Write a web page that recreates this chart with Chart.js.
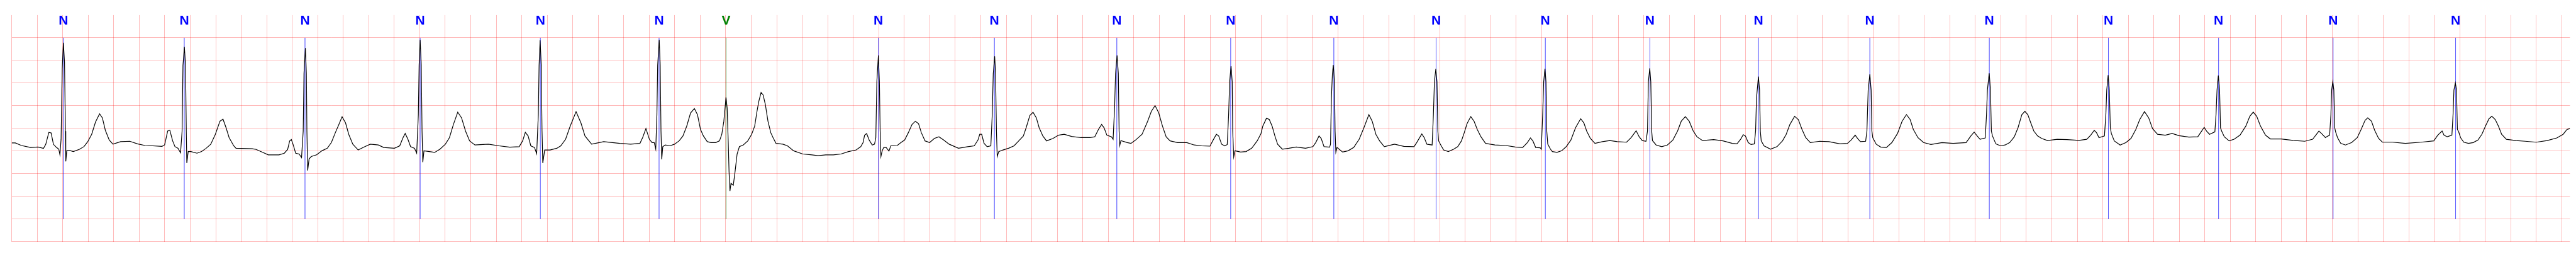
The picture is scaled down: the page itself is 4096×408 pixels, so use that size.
<!DOCTYPE html>
<html><head><meta charset="utf-8">
<script src="https://cdn.jsdelivr.net/npm/chart.js@4.4.0/dist/chart.umd.min.js"></script>
<style>html,body{margin:0;padding:0;background:#fff;overflow:hidden}canvas{display:block}</style>
</head><body>
<canvas id="c" width="4096" height="408"></canvas>
<script>
// ECG trace, in strips (time in s, amplitude in mV)
const stripA_t = [0.000,0.028,0.076,0.148,0.207,0.249,0.267,0.291,0.309,0.327,
0.351,0.369,0.378,0.387,0.396,0.405,0.414,0.421,0.424,0.432,
0.459,0.483,0.531,0.567,0.597,0.627,0.657,0.689,0.711,0.734,
0.765,0.794,0.854,0.926,0.986,1.046,1.106,1.178,1.199,1.223,
1.240,1.262,1.280,1.304,1.324,1.336,1.343,1.354,1.363,1.369,
1.373,1.384,1.405,1.453,1.489,1.525,1.561,1.597,1.633,1.657,
1.681,1.705,1.741];
const stripA_mv = [-0.319,-0.320,-0.377,-0.420,-0.410,-0.440,-0.350,-0.087,-0.100,-0.350,
-0.420,-0.457,-0.583,-0.240,1.320,1.891,1.460,-0.060,-0.728,-0.490,
-0.490,-0.510,-0.460,-0.400,-0.290,-0.130,0.141,0.322,0.232,-0.040,
-0.257,-0.348,-0.293,-0.283,-0.340,-0.377,-0.384,-0.395,-0.366,-0.058,
-0.040,-0.275,-0.400,-0.438,-0.536,-0.060,1.390,1.797,1.390,-0.058,
-0.764,-0.510,-0.510,-0.547,-0.510,-0.438,-0.348,-0.130,0.159,0.203,
0.015,-0.203,-0.384];

const stripB_t = [1.759,1.886,1.917,1.970,2.012,2.096,2.138,2.164,2.180,2.193,
2.206,2.227,2.254,2.273,2.286,2.292,2.303,2.311,2.315,2.321,
2.332,2.349,2.391,2.433,2.475,2.507,2.538,2.566,2.591,2.618,
2.643,2.675,2.717,2.770,2.812,2.875,2.917,3.001,3.043,3.069,
3.086,3.107,3.128,3.159,3.176,3.189,3.195,3.203,3.212,3.218,
3.224,3.233,3.275,3.317,3.359,3.401,3.433,3.464,3.498,3.528,
3.559,3.591,3.633,3.738,3.822,3.906,3.980,4.007,4.028,4.050,
4.071,4.100,4.117,4.130,4.136,4.144,4.153,4.159,4.165,4.180,
4.222,4.275,4.306,4.344,4.380,4.426,4.464,4.496,4.548,4.643,
4.769,4.854,4.927,4.948,4.974,5.001,5.022,5.039,5.051];
const stripB_mv = [-0.438,-0.449,-0.464,-0.529,-0.583,-0.583,-0.547,-0.464,-0.275,-0.246,
-0.348,-0.547,-0.565,-0.645,-0.058,1.210,1.772,1.210,-0.058,-0.928,
-0.674,-0.620,-0.583,-0.493,-0.438,-0.312,-0.094,0.087,0.257,0.123,
-0.130,-0.348,-0.475,-0.402,-0.348,-0.366,-0.420,-0.438,-0.384,-0.203,
-0.112,-0.239,-0.402,-0.438,-0.547,0.304,1.391,1.953,1.391,-0.058,
-0.746,-0.493,-0.511,-0.529,-0.457,-0.348,-0.203,0.087,0.359,0.232,
-0.058,-0.275,-0.366,-0.348,-0.384,-0.413,-0.402,-0.275,-0.087,-0.167,
-0.384,-0.420,-0.558,0.304,1.391,1.942,1.391,-0.058,-0.764,-0.475,
-0.475,-0.438,-0.384,-0.239,0.051,0.370,0.123,-0.167,-0.348,-0.293,
-0.330,-0.348,-0.330,-0.203,-0.004,-0.239,-0.312,-0.312,-0.457];

const stripC_t = [5.060,5.066,5.078,5.086,5.092,5.098,5.106,5.126,5.162,5.198,
5.234,5.264,5.294,5.324,5.354,5.378,5.402,5.425,5.455,5.485,
5.521,5.551,5.569,5.585,5.602,5.611,5.620,5.626,5.633,5.641,
5.659,5.671,5.689,5.707,5.737,5.773,5.803,5.827,5.845,5.859,
5.877,5.893,5.911,5.931,5.953,5.971,5.994,6.048,6.084,6.132,
6.204,6.276,6.324,6.384,6.444,6.504,6.563,6.623,6.659,6.677,
6.689,6.705,6.725,6.749,6.767,6.777,6.785,6.797,6.805,6.811,
6.817,6.827,6.839];
const stripC_mv = [0.304,1.391,1.953,1.391,-0.058,-0.681,-0.402,-0.366,-0.384,-0.348,
-0.275,-0.167,0.051,0.341,0.438,0.304,-0.022,-0.167,-0.293,-0.312,
-0.312,-0.275,-0.130,0.159,0.685,0.449,-0.348,-0.964,-1.380,-1.210,
-1.254,-1.000,-0.565,-0.402,-0.366,-0.275,-0.130,0.051,0.377,0.594,
0.793,0.739,0.522,0.159,-0.094,-0.203,-0.330,-0.348,-0.384,-0.493,
-0.565,-0.583,-0.601,-0.583,-0.583,-0.565,-0.511,-0.475,-0.402,-0.312,
-0.149,-0.112,-0.257,-0.366,-0.348,-0.203,1.029,1.609,1.029,-0.058,
-0.620,-0.493,-0.420];

const stripD_t = [6.858,6.880,6.894,6.945,6.974,7.003,7.032,7.061,7.087,7.112,
7.134,7.163,7.199,7.236,7.272,7.309,7.352,7.425,7.498,7.549,
7.578,7.592,7.607,7.626,7.650,7.679,7.690,7.698,7.709,7.716,
7.723,7.729,7.741,7.774,7.818,7.861,7.898,7.934,7.956,7.985,
8.010,8.036,8.058,8.087,8.116,8.167,8.210,8.254,8.312,8.385,
8.458,8.494,8.523,8.548,8.567,8.589,8.625,8.638,8.650,8.657,
8.669,8.679,8.685,8.690,8.699,8.749,8.778,8.814,8.865,8.909,
8.938,8.967,8.996,9.025,9.054];
const stripD_mv = [-0.420,-0.500,-0.384,-0.377,-0.312,-0.257,-0.094,0.087,0.159,0.105,
-0.094,-0.275,-0.312,-0.221,-0.185,-0.257,-0.348,-0.438,-0.402,-0.384,
-0.257,-0.130,-0.130,-0.330,-0.402,-0.384,0.304,1.210,1.591,1.210,
-0.058,-0.620,-0.511,-0.475,-0.438,-0.384,-0.275,-0.167,0.015,0.286,
0.355,0.232,0.015,-0.167,-0.275,-0.221,-0.149,-0.130,-0.178,-0.203,
-0.203,-0.185,-0.022,0.087,0.015,-0.149,-0.185,-0.239,0.486,1.210,
1.609,1.210,-0.058,-0.377,-0.268,-0.312,-0.330,-0.257,-0.130,0.159,
0.377,0.504,0.341,0.051,-0.185];

const stripE_t = [9.085,9.143,9.216,9.274,9.332,9.398,9.419,9.448,9.466,9.489,
9.514,9.533,9.544,9.552,9.563,9.572,9.576,9.584,9.594,9.638,
9.681,9.725,9.768,9.798,9.812,9.841,9.863,9.885,9.907,9.928,
9.965,10.016,10.074,10.147,10.205,10.227,10.253,10.270,10.292,10.336,
10.343,10.350,10.358,10.365,10.374,10.379,10.385,10.394,10.438,10.481,
10.525,10.568,10.605,10.644,10.670,10.699,10.728,10.765,10.845,10.918,
10.998,11.019,11.059,11.078,11.099,11.140,11.150,11.158,11.169,11.178,
11.185,11.191,11.208,11.230,11.267,11.310];
const stripE_mv = [-0.275,-0.312,-0.312,-0.366,-0.384,-0.391,-0.275,-0.130,-0.167,-0.348,
-0.384,-0.355,0.304,1.029,1.373,1.029,-0.058,-0.630,-0.493,-0.522,
-0.511,-0.438,-0.275,-0.112,0.051,0.225,0.196,0.051,-0.167,-0.348,
-0.457,-0.438,-0.409,-0.438,-0.402,-0.312,-0.167,-0.221,-0.402,-0.413,
-0.348,0.667,1.210,1.399,1.029,-0.058,-0.522,-0.420,-0.522,-0.493,
-0.420,-0.239,0.015,0.304,0.159,-0.130,-0.275,-0.402,-0.348,-0.395,
-0.402,-0.312,-0.123,-0.203,-0.348,-0.366,0.304,1.029,1.312,1.029,
-0.058,-0.275,-0.366,-0.475,-0.511,-0.457];

const stripF_t = [11.341,11.370,11.392,11.414,11.443,11.469,11.494,11.523,11.559,11.632,
11.719,11.792,11.850,11.887,11.911,11.930,11.952,11.988,11.996,12.007,
12.015,12.025,12.033,12.039,12.047,12.068,12.083,12.119,12.156,12.192,
12.228,12.265,12.305,12.330,12.352,12.381,12.417,12.476,12.534,12.592,
12.665,12.701,12.740,12.764,12.788,12.817,12.829,12.836,12.847,12.855,
12.862,12.868,12.897,12.941,12.985,13.028,13.065,13.094,13.126,13.156,
13.188,13.217,13.261,13.348,13.421,13.494,13.530];
const stripF_mv = [-0.402,-0.275,-0.094,0.105,0.261,0.159,-0.022,-0.185,-0.330,-0.366,
-0.377,-0.409,-0.420,-0.312,-0.210,-0.275,-0.420,-0.428,-0.457,0.304,
1.029,1.319,1.029,-0.058,-0.348,-0.457,-0.511,-0.529,-0.493,-0.402,
-0.257,0.015,0.214,0.123,-0.058,-0.221,-0.330,-0.293,-0.268,-0.293,
-0.304,-0.203,-0.051,-0.185,-0.268,-0.283,-0.058,1.029,1.326,1.029,
-0.058,-0.268,-0.366,-0.402,-0.366,-0.257,-0.058,0.159,0.261,0.159,
-0.058,-0.185,-0.268,-0.246,-0.275,-0.330,-0.341];

const stripG_t = [13.539,13.561,13.580,13.597,13.619,13.641,13.667,13.677,13.684,13.699,
13.708,13.714,13.721,13.743,13.794,13.845,13.888,13.917,13.946,13.983,
14.012,14.041,14.070,14.106,14.179,14.252,14.339,14.397,14.426,14.458,
14.477,14.499,14.540,14.550,14.560,14.573,14.583,14.589,14.596,14.623,
14.659,14.703,14.746,14.790,14.826,14.860,14.889,14.914,14.950,14.994,
15.052,15.139,15.226,15.328,15.365,15.391,15.415,15.437,15.478,15.488,
15.495,15.509,15.519,15.526,15.535,15.561,15.597,15.634,15.670,15.706,
15.735,15.765];
const stripG_mv = [-0.312,-0.232,-0.138,-0.167,-0.312,-0.355,-0.341,-0.058,0.667,1.145,
0.848,-0.058,-0.275,-0.384,-0.457,-0.402,-0.275,-0.130,0.087,0.268,
0.196,-0.022,-0.203,-0.312,-0.283,-0.293,-0.341,-0.330,-0.257,-0.149,
-0.221,-0.293,-0.283,-0.058,0.848,1.192,0.848,-0.058,-0.203,-0.348,
-0.413,-0.420,-0.312,-0.112,0.159,0.304,0.196,-0.022,-0.203,-0.312,
-0.355,-0.312,-0.330,-0.312,-0.167,-0.080,-0.167,-0.239,-0.210,0.304,
0.848,1.217,0.848,-0.058,-0.167,-0.341,-0.384,-0.366,-0.312,-0.185,
0.015,0.304];

const stripH_t = [15.789,15.812,15.835,15.859,15.889,15.920,15.966,16.043,16.120,16.213,
16.274,16.305,16.333,16.351,16.370,16.413,16.424,16.431,16.442,16.451,
16.459,16.467,16.490,16.536,16.582,16.621,16.659,16.690,16.727,16.760,
16.790,16.829,16.890,16.944,16.998,17.075,17.145,17.171,17.195,17.214,
17.237,17.279,17.288,17.296,17.306,17.316,17.323,17.332,17.353,17.391,
17.430,17.476,17.522,17.553,17.580,17.607,17.637,17.676,17.714,17.799,
17.892,17.984,18.046,18.076,18.095,18.115,18.146];
const stripH_mv = [0.377,0.304,0.123,-0.058,-0.167,-0.221,-0.268,-0.239,-0.246,-0.264,
-0.239,-0.149,-0.043,-0.094,-0.203,-0.167,0.304,0.848,1.174,0.848,
0.015,-0.112,-0.275,-0.366,-0.312,-0.221,-0.022,0.196,0.370,0.232,
-0.004,-0.130,-0.149,-0.112,-0.159,-0.192,-0.185,-0.076,0.022,-0.058,
-0.130,-0.076,0.304,0.848,1.167,0.848,0.015,-0.058,-0.185,-0.275,
-0.239,-0.149,0.051,0.268,0.359,0.268,0.051,-0.149,-0.232,-0.232,
-0.264,-0.283,-0.239,-0.130,-0.058,-0.112,-0.203];

const stripI_t = [18.154,18.179,18.189,18.195,18.204,18.212,18.219,18.226,18.241,18.266,
18.303,18.352,18.396,18.426,18.457,18.478,18.507,18.532,18.563,18.593,
18.674,18.773,18.897,18.996,19.027,19.061,19.076,19.101,19.138,19.147,
19.154,19.165,19.174,19.181,19.191,19.206,19.231,19.268,19.305,19.342,
19.373,19.404,19.429,19.451,19.478,19.503,19.528,19.565,19.639,19.713,
19.800,19.886,19.961,20.010,20.041,20.064];
const stripI_mv = [-0.185,-0.149,0.304,0.848,1.029,0.848,0.015,-0.076,-0.203,-0.330,
-0.366,-0.312,-0.203,-0.022,0.178,0.232,0.159,-0.040,-0.221,-0.304,
-0.304,-0.330,-0.304,-0.275,-0.149,-0.058,-0.149,-0.185,-0.149,0.304,
0.848,1.004,0.848,-0.022,-0.076,-0.203,-0.304,-0.330,-0.312,-0.257,
-0.130,0.069,0.214,0.268,0.196,0.051,-0.130,-0.239,-0.268,-0.283,
-0.304,-0.268,-0.210,-0.130,-0.022,-0.004];

// beat annotations
const beatTimes = [0.405,1.353,2.300,3.203,4.146,5.077,5.602,6.797,7.707,8.667,9.560,
10.369,11.171,12.028,12.848,13.699,14.573,15.510,16.444,17.308,18.206,19.167];
const beatSymbols = ['N','N','N','N','N','N','V','N','N','N','N',
'N','N','N','N','N','N','N','N','N','N','N'];
const symbolColors = {N:'#0000ff', V:'#008000'};
const markerLineColors = {N:'rgba(0,0,255,0.5)', V:'rgba(0,128,0,0.5)'};

// axes
const xRange = [0, 20.064];
const yRange = [-2.5, 2.5];
const xGridStep = 0.2;
const yGridStep = 0.5;
const markerSpan = [-2.0, 2.0];

const strips = [[stripA_t,stripA_mv],[stripB_t,stripB_mv],[stripC_t,stripC_mv],[stripD_t,stripD_mv],
[stripE_t,stripE_mv],[stripF_t,stripF_mv],[stripG_t,stripG_mv],[stripH_t,stripH_mv],[stripI_t,stripI_mv]];
const ecgPoints = [];
strips.forEach(([ts, vs], k) => {
  if (ts.length !== vs.length) throw new Error('strip ' + k + ' length mismatch ' + ts.length + ' vs ' + vs.length);
  ts.forEach((t, i) => ecgPoints.push({x: t, y: vs[i]}));
});

function markerData(sym) {
  const d = [];
  beatTimes.forEach((t, i) => {
    if (beatSymbols[i] === sym) d.push({x: t, y: markerSpan[1]}, {x: t, y: markerSpan[0]}, {x: t, y: null});
  });
  return d;
}

const S = 0.544;
const labelPlugin = {
  id: 'beatLabels',
  afterDatasetsDraw(chart) {
    const {ctx, chartArea, scales: {x}} = chart;
    ctx.save();
    ctx.font = 'bold 21px "Liberation Sans Narrow", "Liberation Sans", Arial, sans-serif';
    ctx.textAlign = 'center';
    ctx.textBaseline = 'alphabetic';
    beatTimes.forEach((t, i) => {
      ctx.fillStyle = symbolColors[beatSymbols[i]];
      ctx.fillText(beatSymbols[i], x.getPixelForValue(t), chartArea.top + 27 * S);
    });
    ctx.restore();
  }
};

const gridColor = 'rgba(255,0,0,0.27)';
new Chart(document.getElementById('c'), {
  type: 'line',
  data: {
    datasets: [
      {data: ecgPoints, borderColor: '#000', borderWidth: 1.2, pointRadius: 0, tension: 0, fill: false},
      {data: markerData('N'), borderColor: markerLineColors.N, borderWidth: 0.6, pointRadius: 0, spanGaps: false},
      {data: markerData('V'), borderColor: markerLineColors.V, borderWidth: 0.6, pointRadius: 0, spanGaps: false}
    ]
  },
  options: {
    responsive: false,
    animation: false,
    devicePixelRatio: 1,
    layout: {padding: {left: 34.3 * S, right: 4096 - 7511.8 * S, top: 44 * S, bottom: 408 - 705.5 * S}},
    plugins: {legend: {display: false}, tooltip: {enabled: false}},
    scales: {
      x: {type: 'linear', min: xRange[0], max: xRange[1], bounds: 'data',
          ticks: {display: false, stepSize: xGridStep, includeBounds: false},
          grid: {color: gridColor, lineWidth: 1, drawTicks: false}, border: {display: false}},
      y: {type: 'linear', min: yRange[0], max: yRange[1],
          ticks: {display: false, stepSize: yGridStep, includeBounds: false},
          grid: {color: c => (c.tick && c.tick.value >= yRange[1] - 1e-9) ? 'rgba(0,0,0,0)' : gridColor,
                 lineWidth: 1, drawTicks: false}, border: {display: false}}
    }
  },
  plugins: [labelPlugin]
});
</script>
</body></html>
